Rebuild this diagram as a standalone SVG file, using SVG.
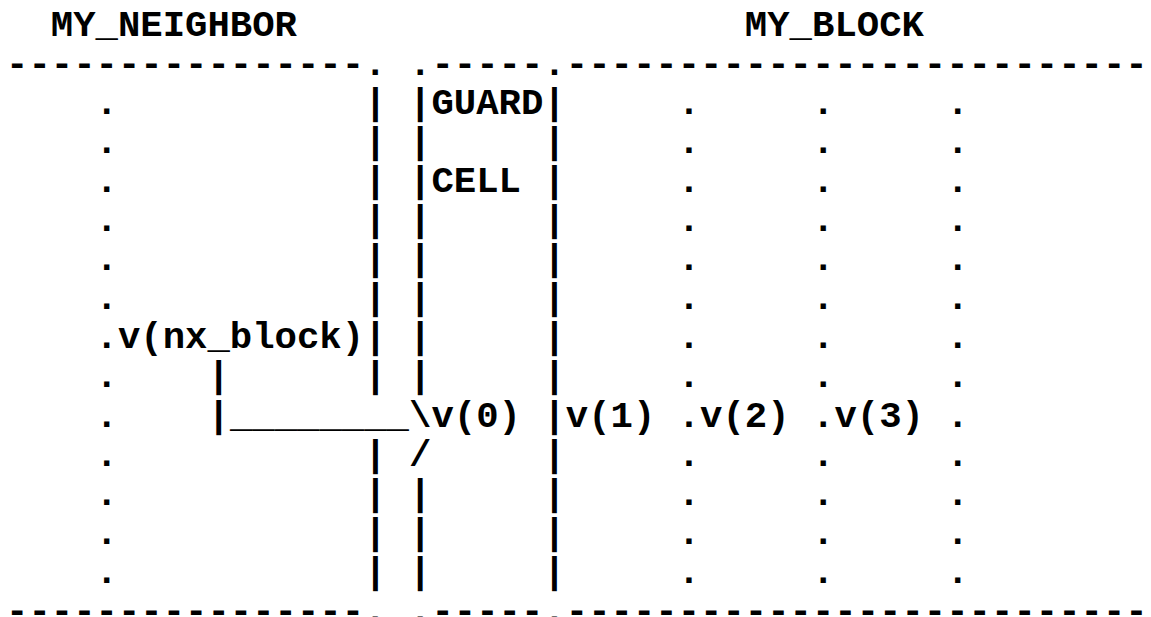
<svg xmlns="http://www.w3.org/2000/svg" width="1151" height="617" viewBox="0 0 1151 617">
<style>
text{font-family:"Liberation Mono","DejaVu Sans Mono",monospace;font-size:37.31px;font-weight:bold;fill:#000;white-space:pre}
</style>
<rect width="1151" height="617" fill="#fff"/>
<g id="my_neighbor">
<text x="50.78" y="35.5">MY_NEIGHBOR</text>
<text x="6" y="74.6" xml:space="preserve">----------------.</text>
<text x="6" y="622" xml:space="preserve">----------------.</text>
<text x="95.56"><tspan x="95.56" y="113.7">.</tspan><tspan x="95.56" y="152.8">.</tspan><tspan x="95.56" y="191.9">.</tspan><tspan x="95.56" y="231">.</tspan><tspan x="95.56" y="270.1">.</tspan><tspan x="95.56" y="309.2">.</tspan><tspan x="95.56" y="348.3">.</tspan><tspan x="95.56" y="387.4">.</tspan><tspan x="95.56" y="426.5">.</tspan><tspan x="95.56" y="465.6">.</tspan><tspan x="95.56" y="504.7">.</tspan><tspan x="95.56" y="543.8">.</tspan><tspan x="95.56" y="582.9">.</tspan></text>
<text x="117.95" y="348.3">v(nx_block)</text>
<text x="364.24"><tspan x="364.24" y="113.7">|</tspan><tspan x="364.24" y="152.8">|</tspan><tspan x="364.24" y="191.9">|</tspan><tspan x="364.24" y="231">|</tspan><tspan x="364.24" y="270.1">|</tspan><tspan x="364.24" y="309.2">|</tspan><tspan x="364.24" y="348.3">|</tspan><tspan x="364.24" y="387.4">|</tspan><tspan x="364.24" y="465.6">|</tspan><tspan x="364.24" y="504.7">|</tspan><tspan x="364.24" y="543.8">|</tspan><tspan x="364.24" y="582.9">|</tspan></text>
</g>
<g id="guard_cell">
<text x="409.02" y="74.6">.-----.</text>
<text x="409.02" y="622">.-----.</text>
<text x="409.02"><tspan x="409.02" y="113.7">|</tspan><tspan x="409.02" y="152.8">|</tspan><tspan x="409.02" y="191.9">|</tspan><tspan x="409.02" y="231">|</tspan><tspan x="409.02" y="270.1">|</tspan><tspan x="409.02" y="309.2">|</tspan><tspan x="409.02" y="348.3">|</tspan><tspan x="409.02" y="387.4">|</tspan><tspan x="409.02" y="504.7">|</tspan><tspan x="409.02" y="543.8">|</tspan><tspan x="409.02" y="582.9">|</tspan></text>
<text x="543.36"><tspan x="543.36" y="113.7">|</tspan><tspan x="543.36" y="152.8">|</tspan><tspan x="543.36" y="191.9">|</tspan><tspan x="543.36" y="231">|</tspan><tspan x="543.36" y="270.1">|</tspan><tspan x="543.36" y="309.2">|</tspan><tspan x="543.36" y="348.3">|</tspan><tspan x="543.36" y="387.4">|</tspan><tspan x="543.36" y="426.5">|</tspan><tspan x="543.36" y="465.6">|</tspan><tspan x="543.36" y="504.7">|</tspan><tspan x="543.36" y="543.8">|</tspan><tspan x="543.36" y="582.9">|</tspan></text>
<text x="431.41" y="113.7">GUARD</text>
<text x="431.41" y="191.9">CELL</text>
<text x="431.41" y="426.5">v(0)</text>
</g>
<g id="my_block">
<text x="744.87" y="35.5">MY_BLOCK</text>
<text x="565.75" y="74.6">--------------------------</text>
<text x="565.75" y="622">--------------------------</text>
<text x="565.75" y="426.5">v(1)</text>
<text x="700.09" y="426.5">v(2)</text>
<text x="834.43" y="426.5">v(3)</text>
<text x="677.7"><tspan x="677.7" y="113.7">.</tspan><tspan x="677.7" y="152.8">.</tspan><tspan x="677.7" y="191.9">.</tspan><tspan x="677.7" y="231">.</tspan><tspan x="677.7" y="270.1">.</tspan><tspan x="677.7" y="309.2">.</tspan><tspan x="677.7" y="348.3">.</tspan><tspan x="677.7" y="387.4">.</tspan><tspan x="677.7" y="426.5">.</tspan><tspan x="677.7" y="465.6">.</tspan><tspan x="677.7" y="504.7">.</tspan><tspan x="677.7" y="543.8">.</tspan><tspan x="677.7" y="582.9">.</tspan></text>
<text x="812.04"><tspan x="812.04" y="113.7">.</tspan><tspan x="812.04" y="152.8">.</tspan><tspan x="812.04" y="191.9">.</tspan><tspan x="812.04" y="231">.</tspan><tspan x="812.04" y="270.1">.</tspan><tspan x="812.04" y="309.2">.</tspan><tspan x="812.04" y="348.3">.</tspan><tspan x="812.04" y="387.4">.</tspan><tspan x="812.04" y="426.5">.</tspan><tspan x="812.04" y="465.6">.</tspan><tspan x="812.04" y="504.7">.</tspan><tspan x="812.04" y="543.8">.</tspan><tspan x="812.04" y="582.9">.</tspan></text>
<text x="946.38"><tspan x="946.38" y="113.7">.</tspan><tspan x="946.38" y="152.8">.</tspan><tspan x="946.38" y="191.9">.</tspan><tspan x="946.38" y="231">.</tspan><tspan x="946.38" y="270.1">.</tspan><tspan x="946.38" y="309.2">.</tspan><tspan x="946.38" y="348.3">.</tspan><tspan x="946.38" y="387.4">.</tspan><tspan x="946.38" y="426.5">.</tspan><tspan x="946.38" y="465.6">.</tspan><tspan x="946.38" y="504.7">.</tspan><tspan x="946.38" y="543.8">.</tspan><tspan x="946.38" y="582.9">.</tspan></text>
</g>
<g id="connectors">
<text x="207.51"><tspan x="207.51" y="387.4">|</tspan><tspan x="207.51" y="426.5">|</tspan></text>
<text x="229.9" y="426.5">________\</text>
<text x="409.02" y="465.6">/</text>
</g>
</svg>
